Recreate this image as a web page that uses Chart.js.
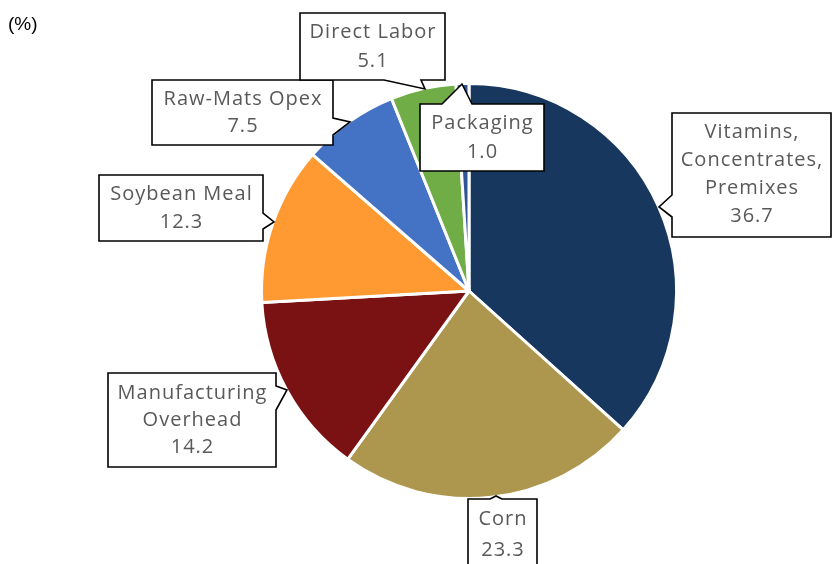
<!DOCTYPE html>
<html>
<head>
<meta charset="utf-8">
<script src="https://cdn.jsdelivr.net/npm/chart.js@4.4.1/dist/chart.umd.min.js"></script>
<style>
  html, body { margin: 0; padding: 0; background: #fff; }
  #wrap { width: 832px; height: 564px; position: relative; }
</style>
</head>
<body>
<div id="wrap"><canvas id="cost"></canvas></div>
<script>
// cost breakdown (%), clockwise from 12 o'clock
const categories = [
  ['Vitamins,', 'Concentrates,', 'Premixes'],
  ['Corn'],
  ['Manufacturing', 'Overhead'],
  ['Soybean Meal'],
  ['Raw-Mats Opex'],
  ['Direct Labor'],
  ['Packaging']
];
const shares = [36.7, 23.3, 14.2, 12.3, 7.5, 5.1, 1.0];
const sliceColors = ['#17375E', '#AD974F', '#7A1113', '#FF9A33', '#4472C4', '#70AD47', '#2F5597'];
const unitLabel = '(%)';

// callout boxes: [x, y, w, h], tail side, tail base from/to, tip, text centre y
const callouts = [
  { box: [672, 113, 159, 124], side: 'left',   from: 217, to: 195, tip: [659, 207], cy: 174, lh: 28 },
  { box: [468, 499, 69, 80],   side: 'top',    from: 490, to: 502, tip: [496, 496], cy: 535, lh: 31 },
  { box: [108, 373, 168, 94],  side: 'right',  from: 386, to: 410, tip: [287, 390], cy: 420, lh: 27 },
  { box: [99, 175, 164, 66],   side: 'right',  from: 213, to: 229, tip: [274, 222], cy: 208, lh: 28 },
  { box: [152, 80, 181, 65],   side: 'right',  from: 118, to: 135, tip: [350, 122], cy: 113, lh: 27 },
  { box: [300, 13, 145, 67],   side: 'bottom', from: 421, to: 384, tip: [425, 89],  cy: 47,  lh: 29 },
  { box: [420, 104, 124, 67],  side: 'top',    from: 442, to: 472, tip: [462, 84],  cy: 138, lh: 29 }
];

function calloutPath(ctx, c) {
  const [x, y, w, h] = c.box;
  ctx.beginPath();
  ctx.moveTo(x, y);
  if (c.side === 'top') {
    ctx.lineTo(c.from, y); ctx.lineTo(c.tip[0], c.tip[1]); ctx.lineTo(c.to, y);
  }
  ctx.lineTo(x + w, y);
  if (c.side === 'right') {
    ctx.lineTo(x + w, c.from); ctx.lineTo(c.tip[0], c.tip[1]); ctx.lineTo(x + w, c.to);
  }
  ctx.lineTo(x + w, y + h);
  if (c.side === 'bottom') {
    ctx.lineTo(c.from, y + h); ctx.lineTo(c.tip[0], c.tip[1]); ctx.lineTo(c.to, y + h);
  }
  ctx.lineTo(x, y + h);
  if (c.side === 'left') {
    ctx.lineTo(x, c.from); ctx.lineTo(c.tip[0], c.tip[1]); ctx.lineTo(x, c.to);
  }
  ctx.closePath();
}

const calloutPlugin = {
  id: 'callouts',
  afterDraw(chart) {
    const ctx = chart.ctx;
    const labels = chart.data.labels;
    const values = chart.data.datasets[0].data;
    ctx.save();
    callouts.forEach((c, i) => {
      calloutPath(ctx, c);
      ctx.fillStyle = '#fff';
      ctx.fill();
      ctx.lineWidth = 1.6;
      ctx.strokeStyle = '#000';
      ctx.lineJoin = 'miter';
      ctx.stroke();

      const lines = labels[i].concat([values[i].toFixed(1)]);
      const cx = c.box[0] + c.box[2] / 2 + 0.5;
      const top = c.cy - (lines.length - 1) * c.lh / 2;
      ctx.fillStyle = '#595959';
      ctx.font = '20px "Open Sans", sans-serif';
      ctx.letterSpacing = '1px';
      ctx.textAlign = 'center';
      ctx.textBaseline = 'middle';
      lines.forEach((t, k) => ctx.fillText(t, cx, top + k * c.lh));
    });

    ctx.letterSpacing = '0px';
    ctx.fillStyle = '#000';
    ctx.font = '19px "Liberation Sans", sans-serif';
    ctx.textAlign = 'left';
    ctx.textBaseline = 'middle';
    ctx.fillText(unitLabel, 8, 25);
    ctx.restore();
  }
};

new Chart(document.getElementById('cost'), {
  type: 'pie',
  data: {
    labels: categories,
    datasets: [{
      data: shares,
      backgroundColor: sliceColors,
      borderColor: '#fff',
      borderWidth: 3
    }]
  },
  options: {
    responsive: true,
    maintainAspectRatio: false,
    animation: false,
    layout: { padding: { left: 260, right: 154, top: 82, bottom: 64 } },
    plugins: {
      legend: { display: false },
      tooltip: { enabled: false }
    }
  },
  plugins: [calloutPlugin]
});
</script>
</body>
</html>
